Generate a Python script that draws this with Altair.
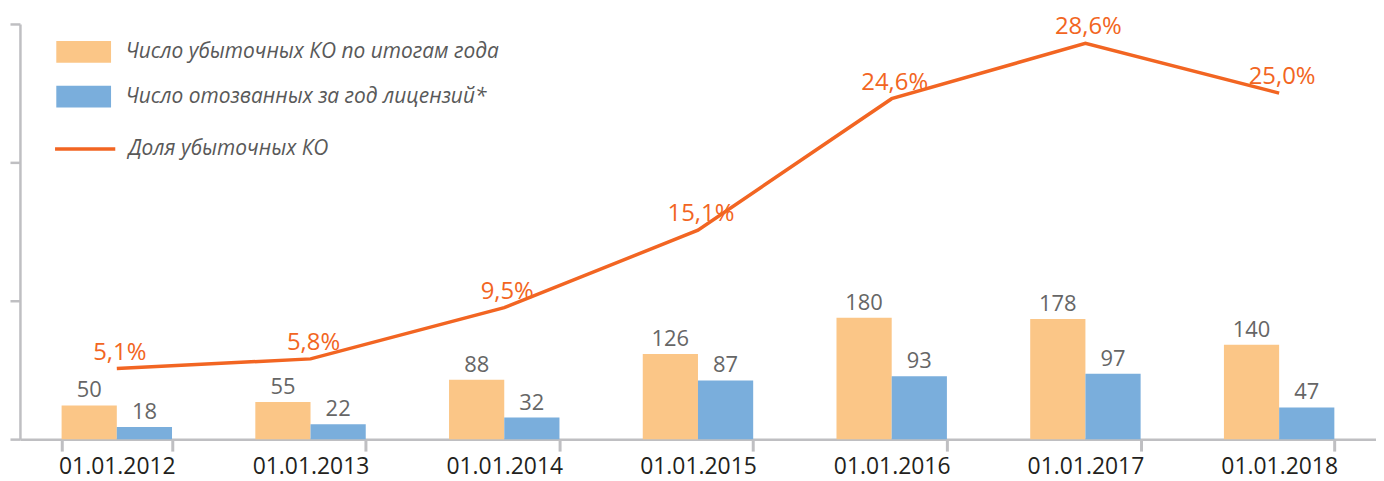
import altair as alt
import pandas as pd

dates = ["01.01.2012", "01.01.2013", "01.01.2014", "01.01.2015", "01.01.2016", "01.01.2017", "01.01.2018"]
loss_making = [50, 55, 88, 126, 180, 178, 140]
revoked = [18, 22, 32, 87, 93, 97, 47]
share = [5.1, 5.8, 9.5, 15.1, 24.6, 28.6, 25.0]

s1 = "Число убыточных КО по итогам года"
s2 = "Число отозванных за год лицензий*"
s3 = "Доля убыточных КО"

FONT = "Open Sans"
ORANGE = "#FBC687"
BLUE = "#7AAEDC"
LINE = "#F26522"
AXIS = "#BFBFC2"

bars = pd.DataFrame({
    "date": dates * 2,
    "series": [s1] * len(dates) + [s2] * len(dates),
    "value": loss_making + revoked,
})
line = pd.DataFrame({
    "date": dates,
    "series": [s3] * len(dates),
    "share": share,
    "label": [f"{v:.1f}%".replace(".", ",") for v in share],
})

xscale = alt.Scale(domain=dates, paddingInner=0.43, paddingOuter=0.215)
x = alt.X("date:N", scale=xscale, sort=dates, title=None,
          axis=alt.Axis(labelAngle=0, labelFont=FONT, labelFontSize=23, labelColor="#231F20",
                        ticks=True, tickBand="extent", tickSize=12, tickColor=AXIS, tickWidth=3,
                        domainColor=AXIS, domainWidth=2.5, labelPadding=5))
ybar = alt.Y("value:Q", scale=alt.Scale(domain=[0, 615]), title=None,
             axis=alt.Axis(values=[0, 205, 410, 615], labels=False, grid=False, tickSize=10,
                           tickColor=AXIS, tickWidth=2.5, domainColor=AXIS, domainWidth=2.5))
xoff = alt.XOffset("series:N", scale=alt.Scale(domain=[s1, s2], paddingInner=0, paddingOuter=0))

rect_path = "M-2,-0.8L2,-0.8L2,0.8L-2,0.8Z"
line_path = "M-2.2,0L2.2,0"

bar_layer = alt.Chart(bars).mark_bar().encode(
    x=x, y=ybar, xOffset=xoff,
    color=alt.Color("series:N", scale=alt.Scale(domain=[s1, s2], range=[ORANGE, BLUE]),
                    legend=alt.Legend(title=None, orient="none", legendX=50, legendY=14,
                                      symbolType=rect_path, symbolSize=756, symbolStrokeWidth=0,
                                      labelFont=FONT, labelFontSize=21, labelFontStyle="italic",
                                      labelColor="#595959", labelOffset=28, rowPadding=20,
                                      padding=0, labelLimit=600)),
)
bar_text = alt.Chart(bars).mark_text(baseline="alphabetic", dy=-8, font=FONT, fontSize=22, color="#666666").encode(
    x=x, y=ybar, xOffset=xoff, text="value:Q"
)
bars_chart = alt.layer(bar_layer, bar_text)

yline = alt.Y("share:Q", scale=alt.Scale(domain=[0, 30]), axis=None)
line_layer = alt.Chart(line).mark_line(strokeWidth=3.5).encode(
    x=x, y=yline,
    stroke=alt.Stroke("series:N", scale=alt.Scale(domain=[s3], range=[LINE]),
                      legend=alt.Legend(title=None, orient="none", legendX=50, legendY=110,
                                        symbolType=line_path, symbolSize=756, symbolStrokeWidth=3.5,
                                        labelFont=FONT, labelFontSize=21, labelFontStyle="italic",
                                        labelColor="#595959", labelOffset=28, padding=0, labelLimit=600)),
)
line_text = alt.Chart(line).mark_text(baseline="middle", dy=-16, dx=3, font=FONT, fontSize=24, color=LINE).encode(
    x=x, y=yline, text="label:N"
)
line_chart = alt.layer(line_layer, line_text)

chart = alt.layer(bars_chart, line_chart).resolve_scale(y="independent").properties(
    width=1362, height=417,
    autosize=alt.AutoSizeParams(type="none"),
    padding={"left": 12, "top": 15, "right": 0, "bottom": 40},
).configure_view(stroke=None)

chart.save("out.html", embed_options={"renderer": "svg", "actions": False})
